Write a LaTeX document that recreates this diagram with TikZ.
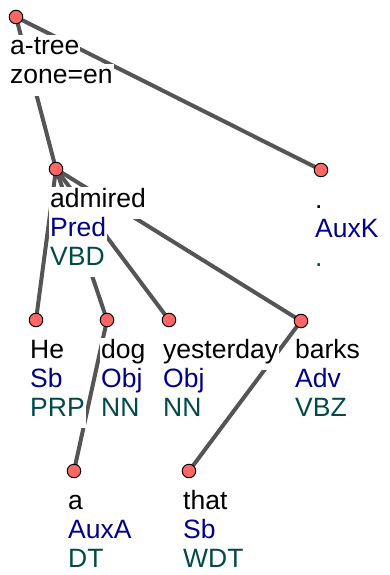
\documentclass[tikz,border=0pt]{standalone}
\usepackage{fontspec}
\setmainfont{Liberation Sans}
\usetikzlibrary{backgrounds}
\definecolor{edgegray}{RGB}{85,85,85}
\definecolor{nodered}{RGB}{255,102,102}
\definecolor{afunblue}{RGB}{0,0,139}
\definecolor{tagteal}{RGB}{0,74,74}
\tikzset{
  edge/.style={draw=edgegray, line width=4pt},
  tnode/.style={circle, draw=black, line width=1pt, fill=nodered, minimum size=13.5pt, inner sep=0pt},
  lbl/.style={anchor=base west, fill=white, inner sep=0pt, inner xsep=1pt, text height=20pt, text depth=12pt, font=\fontsize{26.5}{29}\selectfont},
  formlbl/.style={lbl, text=black},
  afunlbl/.style={lbl, text=afunblue},
  taglbl/.style={lbl, text=tagteal}
}
\begin{document}
\begin{tikzpicture}[x=1pt,y=-1pt]
\useasboundingbox (0,0) rectangle (389,575);
% token circles
\node[tnode] (root) at (16,17) {};
\node[tnode] (admired) at (56,169) {};
\node[tnode] (dot) at (321,170) {};
\node[tnode] (he) at (36,320) {};
\node[tnode] (dog) at (107,320) {};
\node[tnode] (yest) at (169,320) {};
\node[tnode] (barks) at (301,321) {};
\node[tnode] (a) at (74,471) {};
\node[tnode] (that) at (189,471) {};
% edges
\begin{scope}[on background layer]
\draw[edge] (root.center) -- (admired.center);
\draw[edge] (root.center) -- (dot.center);
\draw[edge] (admired.center) -- (he.center);
\draw[edge] (admired.center) -- (dog.center);
\draw[edge] (admired.center) -- (yest.center);
\draw[edge] (admired.center) -- (barks.center);
\draw[edge] (dog.center) -- (a.center);
\draw[edge] (barks.center) -- (that.center);
\end{scope}
% labels
\node[formlbl] (rootf) at (9,55) {a-tree};
\node[formlbl] (rootz) at (9,84) {zone=en};
\node[formlbl] (admf) at (49,207) {admired};
\node[afunlbl] (adma) at (49,236) {Pred};
\node[taglbl] (admt) at (49,265) {VBD};
\node[formlbl] (dotf) at (314,208) {.};
\node[afunlbl] (dota) at (314,237) {AuxK};
\node[taglbl] (dott) at (314,266) {.};
\node[formlbl] (hef) at (29,358) {He};
\node[afunlbl] (hea) at (29,387) {Sb};
\node[taglbl] (het) at (29,416) {PRP};
\node[formlbl] (dogf) at (100,358) {dog};
\node[afunlbl] (doga) at (100,387) {Obj};
\node[taglbl] (dogt) at (100,416) {NN};
\node[formlbl] (yestf) at (162,358) {yesterday};
\node[afunlbl] (yesta) at (162,387) {Obj};
\node[taglbl] (yestt) at (162,416) {NN};
\node[formlbl] (barksf) at (294,358) {barks};
\node[afunlbl] (barksa) at (294,387) {Adv};
\node[taglbl] (barkst) at (294,416) {VBZ};
\node[formlbl] (af) at (67,509) {a};
\node[afunlbl] (aa) at (67,538) {AuxA};
\node[taglbl] (at) at (67,567) {DT};
\node[formlbl] (thatf) at (182,509) {that};
\node[afunlbl] (thata) at (182,538) {Sb};
\node[taglbl] (thatt) at (182,567) {WDT};
\end{tikzpicture}
\end{document}
